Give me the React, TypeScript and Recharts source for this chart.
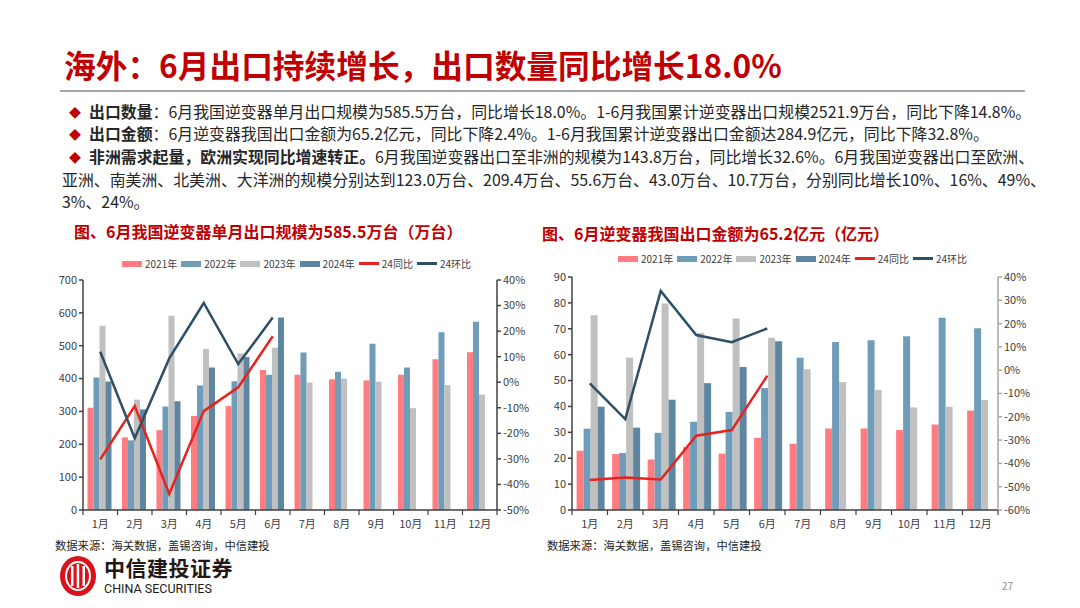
import { ComposedChart, Bar, Line, XAxis, YAxis } from "recharts";

const months = ["1月", "2月", "3月", "4月", "5月", "6月", "7月", "8月", "9月", "10月", "11月", "12月"];
const seriesNames = ["2021年", "2022年", "2023年", "2024年", "24同比", "24环比"];

// 出口数量（万台）
const units2021 = [311, 221, 243, 286, 316, 426, 412, 398, 394, 412, 459, 480];
const units2022 = [403, 212, 315, 379, 392, 412, 479, 421, 506, 434, 541, 573];
const units2023 = [561, 336, 591, 490, 476, 494, 388, 400, 390, 310, 380, 351];
const units2024 = [391, 306, 331, 434, 466, 585.5];
const unitsYoY = [-30.2, -9.3, -43.7, -11.3, -2.0, 18.0];
const unitsMoM = [11.9, -21.9, 9.3, 31.0, 7.1, 25.3];
const unitsTicks = [0, 100, 200, 300, 400, 500, 600, 700];
const unitsPctTicks = [-50, -40, -30, -20, -10, 0, 10, 20, 30, 40];

// 出口金额（亿元）
const value2021 = [22.9, 21.6, 19.5, 24.3, 21.8, 27.9, 25.6, 31.5, 31.5, 30.9, 33.0, 38.4];
const value2022 = [31.4, 22.0, 29.8, 34.1, 37.9, 47.1, 58.8, 64.9, 65.6, 67.1, 74.3, 70.2];
const value2023 = [75.2, 58.8, 79.8, 68.4, 74.0, 66.5, 54.4, 49.4, 46.4, 39.6, 39.9, 42.5];
const value2024 = [39.9, 31.8, 42.6, 49.0, 55.2, 65.2];
const valueYoY = [-47.1, -46.0, -46.9, -28.1, -25.7, -2.4];
const valueMoM = [-5.7, -21.0, 34.0, 15.1, 12.0, 17.9];
const valueTicks = [0, 10, 20, 30, 40, 50, 60, 70, 80, 90];
const valuePctTicks = [-60, -50, -40, -30, -20, -10, 0, 10, 20, 30, 40];

const COLORS = ["#FF7C80", "#6F9CB9", "#C0C0C0", "#5F86A1", "#E8221E", "#2F4F66"];
const FONT = "'Noto Sans CJK SC', 'Noto Sans', sans-serif";
const AXIS = "#404040";
const RED = "#C00000";

function buildRows(a: number[], b: number[], c: number[], d: number[], yoy: number[], mom: number[]) {
  return months.map((m, i) => ({
    month: m,
    y2021: a[i] ?? null,
    y2022: b[i] ?? null,
    y2023: c[i] ?? null,
    y2024: d[i] ?? null,
    yoy: yoy[i] ?? null,
    mom: mom[i] ?? null,
  }));
}

function MonthTick(props: any) {
  const { x, y, payload, index } = props;
  const half = payload.offset || 0;
  return (
    <g>
      {index === 0 && <line x1={x - half} x2={x - half} y1={y - 8} y2={y - 3} stroke={AXIS} strokeWidth={1.2} />}
      <line x1={x + half} x2={x + half} y1={y - 8} y2={y - 3} stroke={AXIS} strokeWidth={1.2} />
      <text x={x} y={y + 10} textAnchor="middle" fontSize={11} fill={AXIS} fontFamily={FONT}>
        {payload.value}
      </text>
    </g>
  );
}

function Legend({ left, top }: { left: number; top: number }) {
  return (
    <div style={{ position: "absolute", left, top, display: "flex", alignItems: "center", gap: 4, fontSize: 10, color: AXIS, whiteSpace: "nowrap" }}>
      {seriesNames.map((n, i) => (
        <div key={n} style={{ display: "flex", alignItems: "center", gap: 3 }}>
          {i < 4 ? (
            <span style={{ display: "inline-block", width: 20, height: 6, background: COLORS[i] }} />
          ) : (
            <span style={{ display: "inline-block", width: 20, height: 2.5, background: COLORS[i] }} />
          )}
          <span>{n}</span>
        </div>
      ))}
    </div>
  );
}

interface ExportChartProps {
  rows: ReturnType<typeof buildRows>;
  width: number;
  height: number;
  leftTicks: number[];
  pctTicks: number[];
  rightAxisColor: string;
}

function ExportChart({ rows, width, height, leftTicks, pctTicks, rightAxisColor }: ExportChartProps) {
  const tickStyle = { fontSize: 11, fill: AXIS, fontFamily: FONT };
  return (
    <ComposedChart width={width} height={height} data={rows} margin={{ top: 30, right: 0, bottom: 0, left: 0 }} barCategoryGap="13%" barGap={0}>
      <XAxis dataKey="month" height={25} stroke={AXIS} strokeWidth={1.5} tickLine={false} tick={<MonthTick />} interval={0} />
      <YAxis
        yAxisId="left"
        width={42}
        domain={[leftTicks[0], leftTicks[leftTicks.length - 1]]}
        ticks={leftTicks}
        stroke={AXIS}
        strokeWidth={1.5}
        tickSize={4}
        tick={tickStyle}
        interval={0}
      />
      <YAxis
        yAxisId="right"
        orientation="right"
        width={44}
        domain={[pctTicks[0], pctTicks[pctTicks.length - 1]]}
        ticks={pctTicks}
        stroke={rightAxisColor}
        strokeWidth={1.5}
        tickSize={4}
        tick={tickStyle}
        tickFormatter={(v: number) => `${v}%`}
        interval={0}
      />
      <Bar yAxisId="left" dataKey="y2021" name={seriesNames[0]} fill={COLORS[0]} isAnimationActive={false} />
      <Bar yAxisId="left" dataKey="y2022" name={seriesNames[1]} fill={COLORS[1]} isAnimationActive={false} />
      <Bar yAxisId="left" dataKey="y2023" name={seriesNames[2]} fill={COLORS[2]} isAnimationActive={false} />
      <Bar yAxisId="left" dataKey="y2024" name={seriesNames[3]} fill={COLORS[3]} isAnimationActive={false} />
      <Line yAxisId="right" dataKey="yoy" name={seriesNames[4]} stroke={COLORS[4]} strokeWidth={2.5} dot={false} type="linear" isAnimationActive={false} />
      <Line yAxisId="right" dataKey="mom" name={seriesNames[5]} stroke={COLORS[5]} strokeWidth={2.5} dot={false} type="linear" isAnimationActive={false} />
    </ComposedChart>
  );
}

function Logo() {
  return (
    <div style={{ position: "absolute", left: 58, top: 554, display: "flex", alignItems: "center" }}>
      <svg width={40} height={44} viewBox="0 0 40 44">
        <ellipse cx={20} cy={22} rx={18} ry={20} fill="#D7141A" />
        <ellipse cx={20} cy={22} rx={12} ry={14} fill="none" stroke="#fff" strokeWidth={2} />
        <rect x={13} y={12} width={2.5} height={20} fill="#fff" />
        <rect x={18.7} y={10} width={2.5} height={24} fill="#fff" />
        <rect x={24.5} y={12} width={2.5} height={20} fill="#fff" />
      </svg>
      <div style={{ marginLeft: 6, color: "#231815" }}>
        <div style={{ fontSize: 21, fontWeight: 700, letterSpacing: 0.5, lineHeight: "22px", fontFamily: "'Noto Sans CJK SC', serif" }}>中信建投证券</div>
        <div style={{ fontSize: 12.5, lineHeight: "14px", marginTop: 4, fontFamily: "'Liberation Sans Narrow', 'Roboto', sans-serif" }}>CHINA SECURITIES</div>
      </div>
    </div>
  );
}

const bulletStyle = { position: "absolute" as const, left: 62, fontSize: 15.9, color: "#262626", whiteSpace: "nowrap" as const, lineHeight: "19px" };
const diamond = <span style={{ color: RED, fontSize: 12, marginRight: 8, marginLeft: 7 }}>◆</span>;

export default function App() {
  const unitRows = buildRows(units2021, units2022, units2023, units2024, unitsYoY, unitsMoM);
  const valueRows = buildRows(value2021, value2022, value2023, value2024, valueYoY, valueMoM);
  return (
    <div style={{ position: "absolute", left: 0, top: 0, width: 1080, height: 608, background: "#fff", fontFamily: FONT, overflow: "hidden" }}>
      <div style={{ position: "absolute", left: 64, top: 43, fontSize: 31.7, fontWeight: 700, color: RED, whiteSpace: "nowrap", lineHeight: "42px" }}>
        海外：6月出口持续增长，出口数量同比增长18.0%
      </div>
      <div style={{ position: "absolute", left: 60, top: 90, width: 965, height: 2, background: "#A6A6A6" }} />

      <div style={{ ...bulletStyle, top: 102 }}>
        {diamond}
        <b>出口数量</b>：6月我国逆变器单月出口规模为585.5万台，同比增长18.0%。1-6月我国累计逆变器出口规模2521.9万台，同比下降14.8%。
      </div>
      <div style={{ ...bulletStyle, top: 124 }}>
        {diamond}
        <b>出口金额</b>：6月逆变器我国出口金额为65.2亿元，同比下降2.4%。1-6月我国累计逆变器出口金额达284.9亿元，同比下降32.8%。
      </div>
      <div style={{ ...bulletStyle, top: 147 }}>
        {diamond}
        <b>非洲需求起量，欧洲实现同比增速转正。</b>6月我国逆变器出口至非洲的规模为143.8万台，同比增长32.6%。6月我国逆变器出口至欧洲、
      </div>
      <div style={{ ...bulletStyle, top: 170 }}>
        亚洲、南美洲、北美洲、大洋洲的规模分别达到123.0万台、209.4万台、55.6万台、43.0万台、10.7万台，分别同比增长10%、16%、49%、
      </div>
      <div style={{ ...bulletStyle, top: 192 }}>3%、24%。</div>

      <div style={{ position: "absolute", left: 74, top: 219, fontSize: 16, fontWeight: 700, color: RED, whiteSpace: "nowrap" }}>
        图、6月我国逆变器单月出口规模为585.5万台（万台）
      </div>
      <div style={{ position: "absolute", left: 542, top: 221, fontSize: 16, fontWeight: 700, color: RED, whiteSpace: "nowrap" }}>
        图、6月逆变器我国出口金额为65.2亿元（亿元）
      </div>

      <Legend left={122} top={256} />
      <Legend left={618} top={251} />

      <div style={{ position: "absolute", left: 41, top: 250 }}>
        <ExportChart rows={unitRows} width={500} height={285} leftTicks={unitsTicks} pctTicks={unitsPctTicks} rightAxisColor={AXIS} />
      </div>
      <div style={{ position: "absolute", left: 530, top: 247 }}>
        <ExportChart rows={valueRows} width={512} height={288} leftTicks={valueTicks} pctTicks={valuePctTicks} rightAxisColor="#A6A6A6" />
      </div>

      <div style={{ position: "absolute", left: 55, top: 537, fontSize: 11.3, color: "#262626", whiteSpace: "nowrap" }}>数据来源：海关数据，盖锡咨询，中信建投</div>
      <div style={{ position: "absolute", left: 547, top: 537, fontSize: 11.3, color: "#262626", whiteSpace: "nowrap" }}>数据来源：海关数据，盖锡咨询，中信建投</div>

      <Logo />
      <div style={{ position: "absolute", left: 1002, top: 578, fontSize: 10, color: "#8C8C8C" }}>27</div>
    </div>
  );
}
